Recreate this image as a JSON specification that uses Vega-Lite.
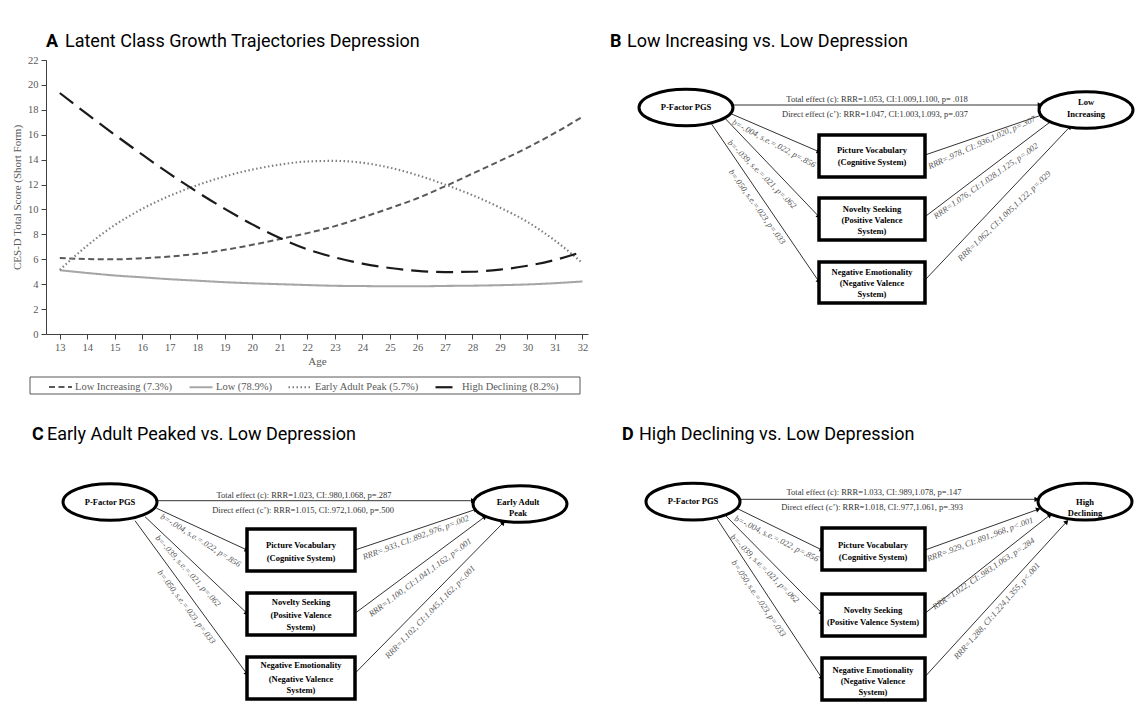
{
  "$schema": "https://vega.github.io/schema/vega-lite/v6.json",
  "width": 1144,
  "height": 712,
  "padding": 0,
  "autosize": {"type": "none"},
  "background": "white",
  "config": {"view": {"stroke": null}, "font": "Liberation Serif"},
  "datasets": {
    "traj": [
      {"age": 13, "score": 6.1, "class": "Low Increasing (7.3%)"},
      {"age": 14, "score": 6.02, "class": "Low Increasing (7.3%)"},
      {"age": 15, "score": 6.0, "class": "Low Increasing (7.3%)"},
      {"age": 16, "score": 6.08, "class": "Low Increasing (7.3%)"},
      {"age": 17, "score": 6.22, "class": "Low Increasing (7.3%)"},
      {"age": 18, "score": 6.44, "class": "Low Increasing (7.3%)"},
      {"age": 19, "score": 6.76, "class": "Low Increasing (7.3%)"},
      {"age": 20, "score": 7.16, "class": "Low Increasing (7.3%)"},
      {"age": 21, "score": 7.62, "class": "Low Increasing (7.3%)"},
      {"age": 22, "score": 8.1, "class": "Low Increasing (7.3%)"},
      {"age": 23, "score": 8.66, "class": "Low Increasing (7.3%)"},
      {"age": 24, "score": 9.36, "class": "Low Increasing (7.3%)"},
      {"age": 25, "score": 10.1, "class": "Low Increasing (7.3%)"},
      {"age": 26, "score": 10.9, "class": "Low Increasing (7.3%)"},
      {"age": 27, "score": 11.86, "class": "Low Increasing (7.3%)"},
      {"age": 28, "score": 12.88, "class": "Low Increasing (7.3%)"},
      {"age": 29, "score": 13.9, "class": "Low Increasing (7.3%)"},
      {"age": 30, "score": 14.96, "class": "Low Increasing (7.3%)"},
      {"age": 31, "score": 16.15, "class": "Low Increasing (7.3%)"},
      {"age": 32, "score": 17.44, "class": "Low Increasing (7.3%)"},
      {"age": 13, "score": 5.12, "class": "Low (78.9%)"},
      {"age": 14, "score": 4.9, "class": "Low (78.9%)"},
      {"age": 15, "score": 4.7, "class": "Low (78.9%)"},
      {"age": 16, "score": 4.55, "class": "Low (78.9%)"},
      {"age": 17, "score": 4.4, "class": "Low (78.9%)"},
      {"age": 18, "score": 4.28, "class": "Low (78.9%)"},
      {"age": 19, "score": 4.16, "class": "Low (78.9%)"},
      {"age": 20, "score": 4.07, "class": "Low (78.9%)"},
      {"age": 21, "score": 4.0, "class": "Low (78.9%)"},
      {"age": 22, "score": 3.93, "class": "Low (78.9%)"},
      {"age": 23, "score": 3.87, "class": "Low (78.9%)"},
      {"age": 24, "score": 3.85, "class": "Low (78.9%)"},
      {"age": 25, "score": 3.83, "class": "Low (78.9%)"},
      {"age": 26, "score": 3.83, "class": "Low (78.9%)"},
      {"age": 27, "score": 3.86, "class": "Low (78.9%)"},
      {"age": 28, "score": 3.88, "class": "Low (78.9%)"},
      {"age": 29, "score": 3.92, "class": "Low (78.9%)"},
      {"age": 30, "score": 3.98, "class": "Low (78.9%)"},
      {"age": 31, "score": 4.08, "class": "Low (78.9%)"},
      {"age": 32, "score": 4.22, "class": "Low (78.9%)"},
      {"age": 13, "score": 5.15, "class": "Early Adult Peak (5.7%)"},
      {"age": 14, "score": 7.1, "class": "Early Adult Peak (5.7%)"},
      {"age": 15, "score": 8.75, "class": "Early Adult Peak (5.7%)"},
      {"age": 16, "score": 10.05, "class": "Early Adult Peak (5.7%)"},
      {"age": 17, "score": 11.1, "class": "Early Adult Peak (5.7%)"},
      {"age": 18, "score": 11.95, "class": "Early Adult Peak (5.7%)"},
      {"age": 19, "score": 12.65, "class": "Early Adult Peak (5.7%)"},
      {"age": 20, "score": 13.2, "class": "Early Adult Peak (5.7%)"},
      {"age": 21, "score": 13.6, "class": "Early Adult Peak (5.7%)"},
      {"age": 22, "score": 13.85, "class": "Early Adult Peak (5.7%)"},
      {"age": 23, "score": 13.9, "class": "Early Adult Peak (5.7%)"},
      {"age": 24, "score": 13.75, "class": "Early Adult Peak (5.7%)"},
      {"age": 25, "score": 13.35, "class": "Early Adult Peak (5.7%)"},
      {"age": 26, "score": 12.75, "class": "Early Adult Peak (5.7%)"},
      {"age": 27, "score": 12.0, "class": "Early Adult Peak (5.7%)"},
      {"age": 28, "score": 11.15, "class": "Early Adult Peak (5.7%)"},
      {"age": 29, "score": 10.15, "class": "Early Adult Peak (5.7%)"},
      {"age": 30, "score": 9.0, "class": "Early Adult Peak (5.7%)"},
      {"age": 31, "score": 7.5, "class": "Early Adult Peak (5.7%)"},
      {"age": 32, "score": 5.7, "class": "Early Adult Peak (5.7%)"},
      {"age": 13, "score": 19.35, "class": "High Declining (8.2%)"},
      {"age": 14, "score": 17.65, "class": "High Declining (8.2%)"},
      {"age": 15, "score": 16.0, "class": "High Declining (8.2%)"},
      {"age": 16, "score": 14.4, "class": "High Declining (8.2%)"},
      {"age": 17, "score": 12.85, "class": "High Declining (8.2%)"},
      {"age": 18, "score": 11.4, "class": "High Declining (8.2%)"},
      {"age": 19, "score": 10.05, "class": "High Declining (8.2%)"},
      {"age": 20, "score": 8.8, "class": "High Declining (8.2%)"},
      {"age": 21, "score": 7.7, "class": "High Declining (8.2%)"},
      {"age": 22, "score": 6.8, "class": "High Declining (8.2%)"},
      {"age": 23, "score": 6.15, "class": "High Declining (8.2%)"},
      {"age": 24, "score": 5.65, "class": "High Declining (8.2%)"},
      {"age": 25, "score": 5.3, "class": "High Declining (8.2%)"},
      {"age": 26, "score": 5.07, "class": "High Declining (8.2%)"},
      {"age": 27, "score": 4.97, "class": "High Declining (8.2%)"},
      {"age": 28, "score": 5.0, "class": "High Declining (8.2%)"},
      {"age": 29, "score": 5.17, "class": "High Declining (8.2%)"},
      {"age": 30, "score": 5.48, "class": "High Declining (8.2%)"},
      {"age": 31, "score": 5.95, "class": "High Declining (8.2%)"},
      {"age": 32, "score": 6.6, "class": "High Declining (8.2%)"}
    ],
    "titleLetters": [
      {"x": 46, "y": 42, "text": "A"},
      {"x": 610, "y": 42, "text": "B"},
      {"x": 32, "y": 435, "text": "C"},
      {"x": 622, "y": 435, "text": "D"}
    ],
    "titleTexts": [
      {"x": 65, "y": 42, "text": "Latent Class Growth Trajectories Depression"},
      {"x": 627, "y": 42, "text": "Low Increasing vs. Low Depression"},
      {"x": 47, "y": 435, "text": "Early Adult Peaked vs. Low Depression"},
      {"x": 639, "y": 435, "text": "High Declining vs. Low Depression"}
    ],
    "frames": [
      {"x": 30, "y": 377, "x2": 580, "y2": 394}
    ],
    "ellipses": [
      {"x": 686, "y": 107.5},
      {"x": 1086, "y": 110},
      {"x": 110, "y": 502},
      {"x": 520, "y": 504},
      {"x": 693, "y": 501.7},
      {"x": 1085, "y": 501.7}
    ],
    "boxes": [
      {"x": 819, "y": 135, "x2": 925, "y2": 177},
      {"x": 819, "y": 198, "x2": 925, "y2": 240},
      {"x": 819, "y": 262, "x2": 925, "y2": 303},
      {"x": 247, "y": 529, "x2": 355, "y2": 571},
      {"x": 247, "y": 593, "x2": 355, "y2": 635},
      {"x": 247, "y": 657, "x2": 355, "y2": 699},
      {"x": 822, "y": 528, "x2": 925, "y2": 570},
      {"x": 822, "y": 594, "x2": 925, "y2": 636},
      {"x": 822, "y": 658, "x2": 925, "y2": 700}
    ],
    "edges": [
      {"x": 732, "y": 105, "x2": 1040, "y2": 105},
      {"x": 730, "y": 113.3, "x2": 819, "y2": 151.7},
      {"x": 725, "y": 118.3, "x2": 819, "y2": 216.7},
      {"x": 710, "y": 121.7, "x2": 819, "y2": 281.7},
      {"x": 925, "y": 155, "x2": 1041.7, "y2": 115},
      {"x": 925, "y": 216.7, "x2": 1055, "y2": 118.3},
      {"x": 925, "y": 280, "x2": 1070, "y2": 126.7},
      {"x": 158, "y": 500.7, "x2": 473.3, "y2": 500.7},
      {"x": 156.7, "y": 508.3, "x2": 247, "y2": 550},
      {"x": 145, "y": 516.7, "x2": 247, "y2": 613.3},
      {"x": 135, "y": 520.7, "x2": 247, "y2": 674},
      {"x": 355, "y": 550, "x2": 476, "y2": 509.3},
      {"x": 355, "y": 613.3, "x2": 485, "y2": 516.7},
      {"x": 355, "y": 673.3, "x2": 503.3, "y2": 522.7},
      {"x": 740, "y": 499.3, "x2": 1036.7, "y2": 499.3},
      {"x": 736.7, "y": 508.3, "x2": 822, "y2": 550},
      {"x": 725, "y": 515, "x2": 822, "y2": 613.3},
      {"x": 716.7, "y": 518.3, "x2": 822, "y2": 678.3},
      {"x": 925, "y": 550, "x2": 1038.3, "y2": 509.3},
      {"x": 925, "y": 613.3, "x2": 1050, "y2": 515},
      {"x": 925, "y": 676.7, "x2": 1066.7, "y2": 521.7}
    ],
    "nodeText": [
      {"x": 686, "y": 107, "text": "P-Factor PGS"},
      {"x": 1086, "y": 102, "text": "Low"},
      {"x": 1086, "y": 114, "text": "Increasing"},
      {"x": 872, "y": 150, "text": "Picture Vocabulary"},
      {"x": 872, "y": 162, "text": "(Cognitive System)"},
      {"x": 872, "y": 208.5, "text": "Novelty Seeking"},
      {"x": 872, "y": 219.5, "text": "(Positive Valence"},
      {"x": 872, "y": 231, "text": "System)"},
      {"x": 872, "y": 272, "text": "Negative Emotionality"},
      {"x": 872, "y": 283, "text": "(Negative Valence"},
      {"x": 872, "y": 294, "text": "System)"},
      {"x": 110, "y": 502, "text": "P-Factor PGS"},
      {"x": 518, "y": 501.5, "text": "Early Adult"},
      {"x": 518, "y": 513, "text": "Peak"},
      {"x": 301, "y": 544.5, "text": "Picture Vocabulary"},
      {"x": 301, "y": 557.5, "text": "(Cognitive System)"},
      {"x": 301, "y": 602, "text": "Novelty Seeking"},
      {"x": 301, "y": 615, "text": "(Positive Valence"},
      {"x": 301, "y": 627, "text": "System)"},
      {"x": 301, "y": 665, "text": "Negative Emotionality"},
      {"x": 301, "y": 679, "text": "(Negative Valence"},
      {"x": 301, "y": 690, "text": "System)"},
      {"x": 693, "y": 501, "text": "P-Factor PGS"},
      {"x": 1085, "y": 501.5, "text": "High"},
      {"x": 1085, "y": 512.5, "text": "Declining"},
      {"x": 873, "y": 545, "text": "Picture Vocabulary"},
      {"x": 873, "y": 557, "text": "(Cognitive System)"},
      {"x": 873, "y": 609.5, "text": "Novelty Seeking"},
      {"x": 873, "y": 622, "text": "(Positive Valence System)"},
      {"x": 873, "y": 670, "text": "Negative Emotionality"},
      {"x": 873, "y": 681, "text": "(Negative Valence"},
      {"x": 873, "y": 692, "text": "System)"}
    ],
    "effectText": [
      {"x": 877, "y": 98.5, "text": "Total effect (c): RRR=1.053, CI:1.009,1.100, p= .018"},
      {"x": 875, "y": 113.5, "text": "Direct effect (c’): RRR=1.047, CI:1.003,1.093, p=.037"},
      {"x": 304, "y": 494.5, "text": "Total effect (c): RRR=1.023, CI:.980,1.068, p=.287"},
      {"x": 303, "y": 509.5, "text": "Direct effect (c’): RRR=1.015, CI:.972,1.060, p=.500"},
      {"x": 874, "y": 491.7, "text": "Total effect (c): RRR=1.033, CI:.989,1.078, p=.147"},
      {"x": 872, "y": 506.7, "text": "Direct effect (c’): RRR=1.018, CI:.977,1.061, p=.393"}
    ],
    "edgeLabels": [
      {"x": 774, "y": 143.3, "angle": 28, "text": "b=-.004, s.e.=.022, p=.856"},
      {"x": 762.3, "y": 174, "angle": 45, "text": "b=-.039, s.e.=.021, p=.062"},
      {"x": 757.3, "y": 206.7, "angle": 54, "text": "b=.050, s.e.=.023, p=.033"},
      {"x": 981.7, "y": 142.3, "angle": -24.4, "text": "RRR=.978, CI:.936,1.020, p=.307"},
      {"x": 985.7, "y": 180.7, "angle": -35, "text": "RRR=1.076, CI:1.028,1.125, p=.002"},
      {"x": 1004, "y": 215.7, "angle": -44, "text": "RRR=1.062, CI:1.005,1.122, p=.029"},
      {"x": 200.7, "y": 540, "angle": 32, "text": "b=-.004, s.e.=.022, p=.856"},
      {"x": 188.3, "y": 570.7, "angle": 48, "text": "b=-.039, s.e.=.021, p=.062"},
      {"x": 186.7, "y": 606.7, "angle": 53, "text": "b=.050, s.e.=.023, p=.033"},
      {"x": 415.7, "y": 537.3, "angle": -20.5, "text": "RRR=.933, CI:.892,.976, p=.002"},
      {"x": 420, "y": 577.3, "angle": -36.6, "text": "RRR=1.100, CI:1.041,1.162, p=.001"},
      {"x": 430, "y": 611.7, "angle": -46, "text": "RRR=1.102, CI:1.045,1.162, p<.001"},
      {"x": 776.7, "y": 538.3, "angle": 26.6, "text": "b=-.004, s.e.=.022, p=.856"},
      {"x": 765, "y": 568.3, "angle": 45, "text": "b=-.039, s.e.=.021, p=.062"},
      {"x": 759, "y": 598.3, "angle": 56, "text": "b=.050, s.e.=.023, p=.033"},
      {"x": 980, "y": 539, "angle": -20.4, "text": "RRR=.929, CI:.891,.968, p<.001"},
      {"x": 983.3, "y": 573.3, "angle": -34, "text": "RRR=1.022, CI:.983,1.063, p=.284"},
      {"x": 996.7, "y": 610.7, "angle": -48.7, "text": "RRR=1.288, CI:1.224,1.355, p<.001"}
    ]
  },
  "layer": [
    {
      "data": {"name": "traj"},
      "mark": {"type": "line", "interpolate": "monotone"},
      "encoding": {
        "x": {
          "field": "age", "type": "quantitative",
          "scale": {"domain": [12.5, 32.2], "range": [46, 588], "nice": false, "zero": false},
          "axis": {
            "orient": "bottom", "offset": -378,
            "values": [13, 14, 15, 16, 17, 18, 19, 20, 21, 22, 23, 24, 25, 26, 27, 28, 29, 30, 31, 32],
            "title": "Age", "grid": false, "labelFlush": false,
            "domainColor": "#404040", "tickColor": "#404040", "tickSize": 5,
            "labelFont": "Liberation Serif", "labelFontSize": 10.5, "labelColor": "#595959", "labelPadding": 3,
            "titleFont": "Liberation Serif", "titleFontSize": 11, "titleFontWeight": "normal", "titleColor": "#595959", "titlePadding": 3
          }
        },
        "y": {
          "field": "score", "type": "quantitative",
          "scale": {"domain": [0, 22], "range": [334, 60], "nice": false, "zero": false},
          "axis": {
            "orient": "left", "offset": -46,
            "values": [0, 2, 4, 6, 8, 10, 12, 14, 16, 18, 20, 22],
            "title": "CES-D Total Score (Short Form)", "grid": false, "labelFlush": false,
            "domainColor": "#404040", "tickColor": "#404040", "tickSize": 5,
            "labelFont": "Liberation Serif", "labelFontSize": 10.5, "labelColor": "#595959", "labelPadding": 3,
            "titleFont": "Liberation Serif", "titleFontSize": 11, "titleFontWeight": "normal", "titleColor": "#595959", "titlePadding": 5
          }
        },
        "color": {
          "field": "class", "type": "nominal",
          "scale": {
            "domain": ["Low Increasing (7.3%)", "Low (78.9%)", "Early Adult Peak (5.7%)", "High Declining (8.2%)"],
            "range": ["#595959", "#a6a6a6", "#7f7f7f", "#1a1a1a"]
          },
          "legend": {
            "orient": "none", "legendX": 48, "legendY": 374, "direction": "horizontal", "title": null,
            "symbolType": "stroke", "symbolSize": 529, "labelOffset": 2, "columnPadding": 12, "padding": 0,
            "labelFont": "Liberation Serif", "labelFontSize": 10.5, "labelColor": "#595959"
          }
        },
        "strokeDash": {
          "field": "class", "type": "nominal",
          "scale": {
            "domain": ["Low Increasing (7.3%)", "Low (78.9%)", "Early Adult Peak (5.7%)", "High Declining (8.2%)"],
            "range": [[6, 3.5], [1, 0], [1.5, 2.5], [17, 8]]
          },
          "legend": {
            "orient": "none", "legendX": 48, "legendY": 374, "direction": "horizontal", "title": null,
            "symbolType": "stroke", "symbolSize": 529, "labelOffset": 2, "columnPadding": 12, "padding": 0,
            "labelFont": "Liberation Serif", "labelFontSize": 10.5, "labelColor": "#595959"
          }
        },
        "strokeWidth": {
          "field": "class", "type": "nominal",
          "scale": {
            "domain": ["Low Increasing (7.3%)", "Low (78.9%)", "Early Adult Peak (5.7%)", "High Declining (8.2%)"],
            "range": [2, 2.2, 1.6, 2.6]
          },
          "legend": {
            "orient": "none", "legendX": 48, "legendY": 374, "direction": "horizontal", "title": null,
            "symbolType": "stroke", "symbolSize": 529, "labelOffset": 2, "columnPadding": 12, "padding": 0,
            "labelFont": "Liberation Serif", "labelFontSize": 10.5, "labelColor": "#595959"
          }
        }
      }
    },
    {
      "encoding": {
        "x": {"field": "x", "type": "quantitative", "scale": {"domain": [0, 1144], "range": [0, 1144], "nice": false, "zero": false}, "axis": null},
        "y": {"field": "y", "type": "quantitative", "scale": {"domain": [0, 712], "range": [0, 712], "nice": false, "zero": false}, "axis": null}
      },
      "layer": [
        {
          "data": {"name": "frames"},
          "mark": {"type": "rect", "fill": null, "stroke": "#595959", "strokeWidth": 1},
          "encoding": {"x2": {"field": "x2"}, "y2": {"field": "y2"}}
        },
        {
          "data": {"name": "edges"},
          "mark": {"type": "rule", "stroke": "#333333", "strokeWidth": 1},
          "encoding": {"x2": {"field": "x2"}, "y2": {"field": "y2"}}
        },
        {
          "data": {"name": "edges"},
          "transform": [{"calculate": "atan2(datum.y2 - datum.y, datum.x2 - datum.x) * 180 / PI", "as": "ang"}],
          "mark": {"type": "point", "shape": "triangle-right", "filled": true, "fill": "black", "stroke": null, "size": 28, "opacity": 1},
          "encoding": {
            "x": {"field": "x2", "type": "quantitative"},
            "y": {"field": "y2", "type": "quantitative"},
            "angle": {"field": "ang", "type": "quantitative", "scale": null}
          }
        },
        {
          "data": {"name": "boxes"},
          "mark": {"type": "rect", "fill": "white", "stroke": "black", "strokeWidth": 3.5},
          "encoding": {"x2": {"field": "x2"}, "y2": {"field": "y2"}}
        },
        {
          "data": {"name": "ellipses"},
          "mark": {
            "type": "point",
            "shape": "M-1,0C-1,-0.2154,-0.5523,-0.39,0,-0.39C0.5523,-0.39,1,-0.2154,1,0C1,0.2154,0.5523,0.39,0,0.39C-0.5523,0.39,-1,0.2154,-1,0Z",
            "size": 8836, "filled": true, "fill": "white", "stroke": "black", "strokeWidth": 3, "opacity": 1
          }
        },
        {
          "data": {"name": "nodeText"},
          "mark": {"type": "text", "font": "Liberation Serif", "fontWeight": "bold", "fontSize": 8.5, "color": "black", "align": "center", "baseline": "middle"},
          "encoding": {"text": {"field": "text"}}
        },
        {
          "data": {"name": "effectText"},
          "mark": {"type": "text", "font": "Liberation Serif", "fontSize": 8.5, "color": "#333333", "align": "center", "baseline": "middle"},
          "encoding": {"text": {"field": "text"}}
        },
        {
          "data": {"name": "edgeLabels"},
          "mark": {"type": "text", "font": "Liberation Serif", "fontStyle": "italic", "fontSize": 8.5, "color": "#555555", "align": "center", "baseline": "middle"},
          "encoding": {
            "text": {"field": "text"},
            "angle": {"field": "angle", "type": "quantitative", "scale": null}
          }
        },
        {
          "data": {"name": "titleLetters"},
          "mark": {"type": "text", "font": "Roboto", "fontWeight": "bold", "fontSize": 18, "color": "black", "align": "left", "baseline": "middle"},
          "encoding": {"text": {"field": "text"}}
        },
        {
          "data": {"name": "titleTexts"},
          "mark": {"type": "text", "font": "Roboto", "fontSize": 18, "color": "black", "align": "left", "baseline": "middle"},
          "encoding": {"text": {"field": "text"}}
        }
      ]
    }
  ],
  "resolve": {"scale": {"x": "independent", "y": "independent"}}
}
